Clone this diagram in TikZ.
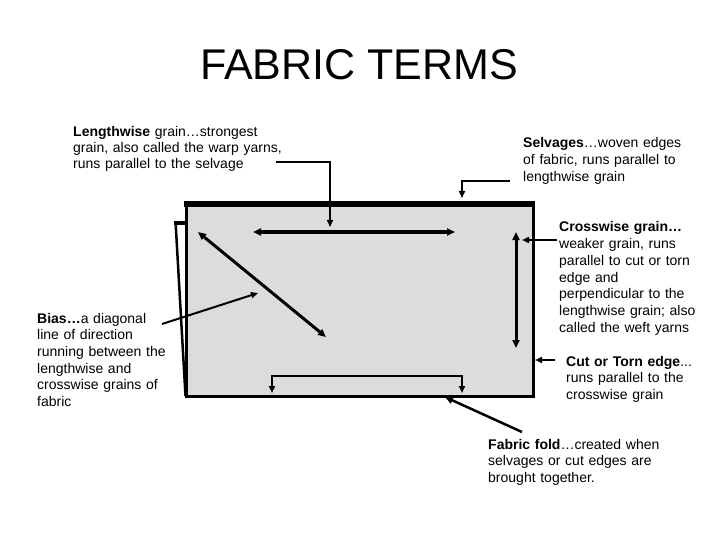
\documentclass[tikz,border=0pt]{standalone}
\usepackage{fontspec}
\setmainfont{Liberation Sans}
\usetikzlibrary{arrows.meta}
\definecolor{fabricgray}{RGB}{220,220,220}
\begin{document}
\begin{tikzpicture}[x=1pt,y=-1pt,
  lbl/.style={anchor=base west, inner sep=0pt, text width=#1, align=left,
              font=\fontsize{14}{16.7}\selectfont},
  dbl/.style={line width=3pt, {Triangle[length=8pt,width=7pt]}-{Triangle[length=8pt,width=7pt]}},
  ptr/.style={line width=2pt, -{Triangle[length=7pt,width=6pt]}},
  thinptr/.style={line width=1.5pt, -{Triangle[length=7pt,width=6pt]}},
  bracket/.style={line width=2.5pt, {Triangle[length=7pt,width=6pt]}-{Triangle[length=7pt,width=6pt]}},
]
\useasboundingbox (0,0) rectangle (720,540);

% title
\node[anchor=base, inner sep=0pt, font=\fontsize{43}{50}\selectfont] (title) at (359,80) {FABRIC TERMS};

% fabric piece
\draw[fill=fabricgray, line width=3pt] (186,204) rectangle (533,396);
\coordinate (selL) at (184,204);
\coordinate (selR) at (535,204);
\draw[line width=6pt] (selL) -- (selR);
% fold at the left
\coordinate (foldA) at (186,223);
\coordinate (foldB) at (174,223);
\coordinate (foldC) at (175.5,221);
\coordinate (foldD) at (185.5,396);
\draw[line width=4.5pt] (foldA) -- (foldB);
\draw[line width=2.5pt] (foldC) -- (foldD);

% grain arrows
\coordinate (lenA) at (253,232);
\coordinate (lenB) at (455,232);
\draw[dbl] (lenA) -- (lenB);
\coordinate (biasA) at (198,232);
\coordinate (biasB) at (326,337);
\draw[dbl] (biasA) -- (biasB);
\coordinate (crossA) at (516,232);
\coordinate (crossB) at (516,348);
\draw[dbl] (crossA) -- (crossB);
\coordinate (brA) at (272,393);
\coordinate (brB) at (272,376);
\coordinate (brC) at (462,376);
\coordinate (brD) at (462,393);
\draw[bracket] (brA) -- (brB) -- (brC) -- (brD);

% labels
\node[lbl=230pt, font=\fontsize{14}{16}\selectfont] (lenT) at (73,137)
  {\textbf{Lengthwise} grain…strongest\\grain, also called the warp yarns,\\runs parallel to the selvage};
\node[lbl=190pt] (selT) at (523,148)
  {\textbf{Selvages}…woven edges\\of fabric, runs parallel to\\lengthwise grain};
\node[lbl=160pt] (crossT) at (559,232)
  {\textbf{Crosswise grain…}\\weaker grain, runs\\parallel to cut or torn\\edge and\\perpendicular to the\\lengthwise grain; also\\called the weft yarns};
\node[lbl=150pt] (cutT) at (566,366)
  {\textbf{Cut or Torn edge}...\\runs parallel to the\\crosswise grain};
\node[lbl=200pt] (foldT) at (488,449)
  {\textbf{Fabric fold}…created when\\selvages or cut edges are\\brought together.};
\node[lbl=140pt] (biasT) at (37,323)
  {\textbf{Bias…}a diagonal\\line of direction\\running between the\\lengthwise and\\crosswise grains of\\fabric};

% pointers
\coordinate (lenP0) at (276,162);
\coordinate (lenP1) at (330,162);
\coordinate (lenP2) at (330,227);
\draw[thinptr] (lenP0) -- (lenP1) -- (lenP2);
\coordinate (selP0) at (510,181);
\coordinate (selP1) at (462,181);
\coordinate (selP2) at (462,198);
\draw[thinptr] (selP0) -- (selP1) -- (selP2);
\coordinate (biasP0) at (162,324);
\coordinate (biasP1) at (258,293);
\draw[ptr] (biasP0) -- (biasP1);
\coordinate (crossP0) at (557,240);
\coordinate (crossP1) at (522,240);
\draw[ptr] (crossP0) -- (crossP1);
\coordinate (cutP0) at (555,360);
\coordinate (cutP1) at (535,360);
\draw[ptr] (cutP0) -- (cutP1);
\coordinate (foldP0) at (522,432);
\coordinate (foldP1) at (445,397);
\draw[line width=2.5pt, -{Triangle[length=8pt,width=7pt]}] (foldP0) -- (foldP1);
\end{tikzpicture}
\end{document}
